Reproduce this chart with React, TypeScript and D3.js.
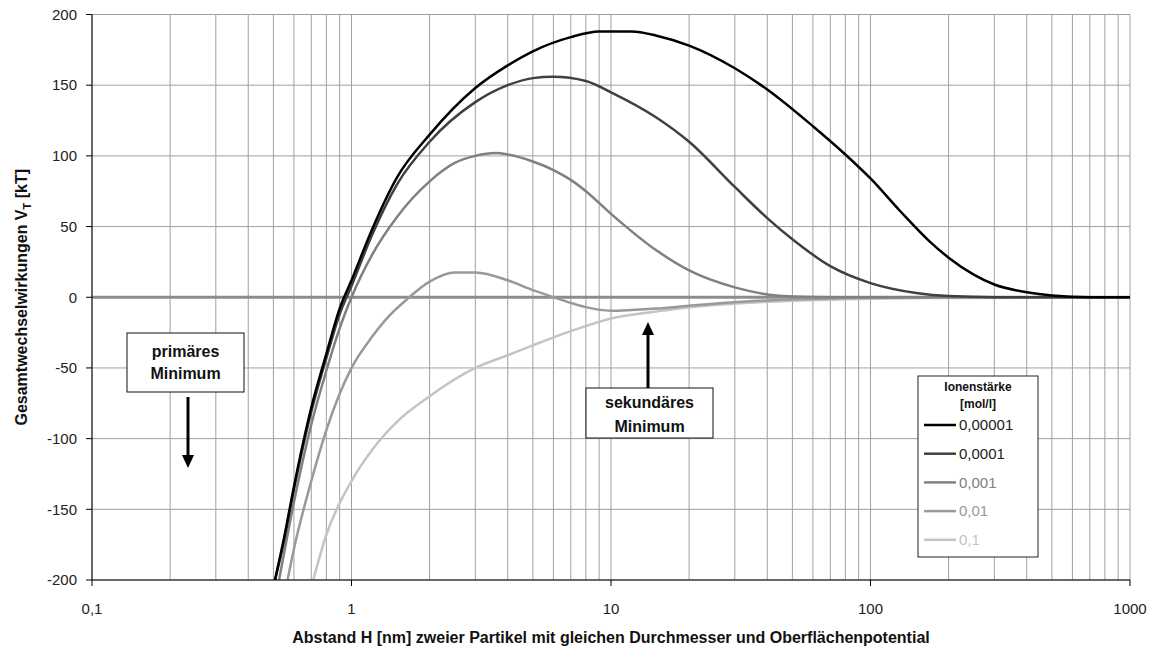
import React from "react";
import * as d3 from "d3";

// Ionenstärke [mol/l] -> [H in nm, V in kT]
const series1: [number, number][] = [
  [0.5, -205], [0.55, -170], [0.6, -134], [0.7, -78], [0.8, -40], [0.9, -8],
  [1, 12], [1.2, 48], [1.5, 85], [2, 115], [3, 148], [4, 164], [5, 174],
  [7, 184], [9, 188], [12, 188], [15, 185], [20, 178], [30, 162], [40, 147],
  [60, 121], [80, 101], [100, 84], [130, 61], [170, 39], [200, 28], [250, 16],
  [300, 9], [400, 3.5], [500, 1.2], [700, 0], [1000, 0],
];
const series2: [number, number][] = [
  [0.5, -205], [0.55, -172], [0.6, -136], [0.7, -81], [0.8, -43], [0.9, -12],
  [1, 8], [1.2, 44], [1.5, 80], [2, 110], [3, 138], [4, 150], [5, 155],
  [6, 156], [8, 153], [10, 145], [15, 127], [20, 110], [30, 78], [40, 56],
  [50, 41], [70, 22], [100, 10], [150, 3], [200, 0.8], [300, 0], [1000, 0],
];
const series3: [number, number][] = [
  [0.52, -205], [0.6, -145], [0.7, -90], [0.8, -52], [0.9, -22], [1, 0],
  [1.2, 30], [1.5, 57], [2, 82], [2.5, 95], [3, 100], [3.6, 102], [4, 101],
  [5, 96], [6, 90], [7, 83], [8, 75], [10, 59], [15, 33], [20, 19], [30, 7],
  [40, 2], [50, 0.5], [70, 0], [1000, 0],
];
const series4: [number, number][] = [
  [0.56, -205], [0.6, -178], [0.7, -130], [0.8, -94], [1, -50], [1.2, -28],
  [1.4, -13], [1.6, -3], [2, 11], [2.5, 17.5], [3, 17.5], [4, 12], [5, 5],
  [6, 0], [7, -4], [8, -7], [10, -9.5], [12, -9], [15, -8], [20, -6],
  [30, -3.5], [50, -1.5], [100, -0.3], [200, 0], [1000, 0],
];
const series5: [number, number][] = [
  [0.7, -205], [0.8, -168], [1, -130], [1.2, -108], [1.5, -88], [2, -70],
  [3, -50], [4, -41], [5, -34], [7, -24], [10, -15], [15, -10], [20, -7],
  [30, -4.5], [50, -2.5], [100, -1], [200, -0.5], [1000, 0],
];

const seriesNames = ["0,00001", "0,0001", "0,001", "0,01", "0,1"];
const seriesColors = ["#000000", "#404040", "#808080", "#999999", "#c4c4c4"];
const allSeries = [series1, series2, series3, series4, series5];

const xTicks = [0.1, 1, 10, 100, 1000];
const xTickLabels = ["0,1", "1", "10", "100", "1000"];
const yTicks = [-200, -150, -100, -50, 0, 50, 100, 150, 200];

const W = 1160;
const H = 653;
const margin = { top: 14.5, right: 30, bottom: 73, left: 92 };

const App = () => {
  const x = d3
    .scaleLog()
    .domain([0.1, 1000])
    .range([margin.left, W - margin.right]);
  const y = d3
    .scaleLinear()
    .domain([-200, 200])
    .range([H - margin.bottom, margin.top]);

  const minorX: number[] = [];
  for (let e = -1; e < 3; e++) {
    for (let m = 1; m <= 9; m++) minorX.push(m * Math.pow(10, e));
  }
  minorX.push(1000);

  const line = d3
    .line<[number, number]>()
    .x((d) => x(d[0]))
    .y((d) => y(d[1]))
    .curve(d3.curveMonotoneX);

  const font = "Arial, 'Liberation Sans', sans-serif";
  const x0 = margin.left;
  const x1 = W - margin.right;
  const y0 = H - margin.bottom;
  const y1 = margin.top;

  const legend = { left: 918, right: 1038, top: 376, bottom: 557 };

  return (
    <svg
      width={W}
      height={H}
      style={{ position: "absolute", left: 0, top: 0, background: "#fff" }}
      fontFamily={font}
    >
      <defs>
        <clipPath id="plot">
          <rect x={x0} y={y1} width={x1 - x0} height={y0 - y1} />
        </clipPath>
      </defs>

      {/* grid */}
      {minorX.map((v, i) => (
        <line key={"gx" + i} x1={x(v)} x2={x(v)} y1={y1} y2={y0} stroke="#a0a0a0" strokeWidth={1} />
      ))}
      {yTicks.map((v) => (
        <line key={"gy" + v} x1={x0} x2={x1} y1={y(v)} y2={y(v)} stroke="#a0a0a0" strokeWidth={1} />
      ))}

      {/* zero line */}
      <line x1={x0} x2={x1} y1={y(0)} y2={y(0)} stroke="#8c8c8c" strokeWidth={3} />

      {/* curves */}
      <g clipPath="url(#plot)">
        {allSeries.map((s, i) => (
          <path
            key={i}
            d={line(s) || ""}
            fill="none"
            stroke={seriesColors[i]}
            strokeWidth={2.5}
          />
        )).reverse()}
      </g>

      {/* axes */}
      <line x1={x0} x2={x0} y1={y1} y2={y0} stroke="#000" />
      <line x1={x0} x2={x1} y1={y0} y2={y0} stroke="#000" />
      {yTicks.map((v) => (
        <g key={"ty" + v}>
          <line x1={x0 - 6} x2={x0} y1={y(v)} y2={y(v)} stroke="#000" />
          <text x={x0 - 15} y={y(v)} dy="0.35em" textAnchor="end" fontSize={15} fill="#222">
            {v}
          </text>
        </g>
      ))}
      {xTicks.map((v, i) => (
        <g key={"tx" + v}>
          <line x1={x(v)} x2={x(v)} y1={y0} y2={y0 + 6} stroke="#000" />
          <text x={x(v)} y={y0 + 34} textAnchor="middle" fontSize={15} fill="#222">
            {xTickLabels[i]}
          </text>
        </g>
      ))}

      {/* axis titles */}
      <text
        transform={`translate(27,${(y0 + y1) / 2}) rotate(-90)`}
        textAnchor="middle"
        fontSize={16}
        fontWeight="bold"
        fill="#111"
      >
        Gesamtwechselwirkungen V
        <tspan fontSize={11} dy={4}>T</tspan>
        <tspan dy={-4}> [kT]</tspan>
      </text>
      <text
        x={(x0 + x1) / 2}
        y={643}
        textAnchor="middle"
        fontSize={16}
        fontWeight="bold"
        fill="#111"
      >
        Abstand H [nm] zweier Partikel mit gleichen Durchmesser und Oberflächenpotential
      </text>

      {/* primäres Minimum */}
      <rect x={127} y={333} width={117} height={59} fill="#fff" stroke="#111" />
      <text x={185.5} y={357} textAnchor="middle" fontSize={16} fontWeight="bold" fill="#111">
        primäres
      </text>
      <text x={185.5} y={379} textAnchor="middle" fontSize={16} fontWeight="bold" fill="#111">
        Minimum
      </text>
      <line x1={188} x2={188} y1={397} y2={456} stroke="#000" strokeWidth={3} />
      <path d="M182,455 L194,455 L188,468 Z" fill="#000" />

      {/* sekundäres Minimum */}
      <rect x={586} y={388} width={127} height={50} fill="#fff" stroke="#111" />
      <text x={649.5} y={408} textAnchor="middle" fontSize={16} fontWeight="bold" fill="#111">
        sekundäres
      </text>
      <text x={649.5} y={432} textAnchor="middle" fontSize={16} fontWeight="bold" fill="#111">
        Minimum
      </text>
      <line x1={648} x2={648} y1={334} y2={388} stroke="#000" strokeWidth={3} />
      <path d="M642,335 L654,335 L648,322 Z" fill="#000" />

      {/* legend */}
      <rect
        x={legend.left}
        y={legend.top}
        width={legend.right - legend.left}
        height={legend.bottom - legend.top}
        fill="#fff"
        stroke="#222"
      />
      <text x={(legend.left + legend.right) / 2} y={391} textAnchor="middle" fontSize={12} fontWeight="bold" fill="#111">
        Ionenstärke
      </text>
      <text x={(legend.left + legend.right) / 2} y={408} textAnchor="middle" fontSize={12} fontWeight="bold" fill="#111">
        [mol/l]
      </text>
      {seriesNames.map((n, i) => {
        const ly = 425 + i * 28.7;
        return (
          <g key={n}>
            <line x1={924} x2={956} y1={ly} y2={ly} stroke={seriesColors[i]} strokeWidth={2.5} />
            <text x={959} y={ly} dy="0.35em" fontSize={15} fill={i < 2 ? "#222" : seriesColors[i]}>
              {n}
            </text>
          </g>
        );
      })}
    </svg>
  );
};

export default App;
